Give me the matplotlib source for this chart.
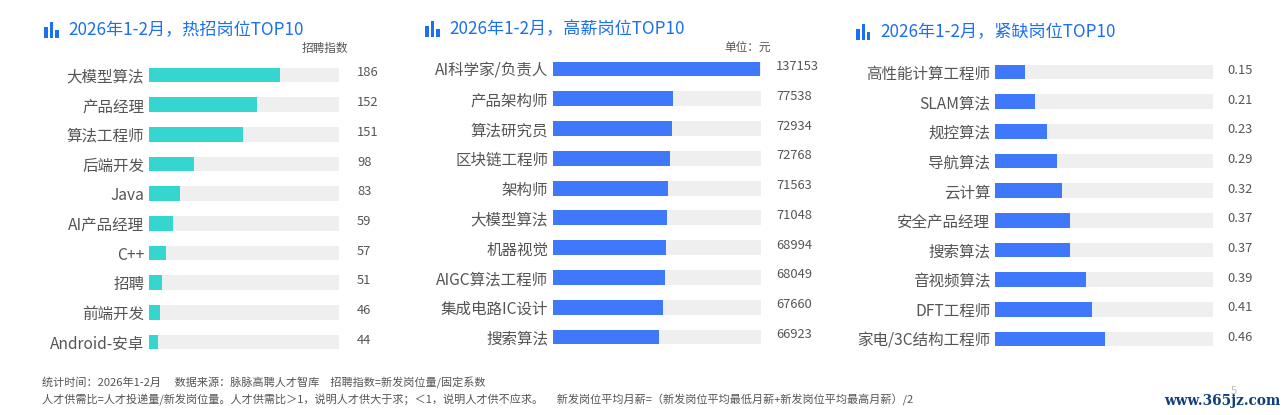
import matplotlib
matplotlib.use('Agg')
import matplotlib.pyplot as plt
from matplotlib.patches import Rectangle

plt.rcParams['font.family'] = ['Noto Sans CJK SC', 'DejaVu Sans']

W, H = 1287, 415

# left panel
hot_jobs = ['大模型算法', '产品经理', '算法工程师', '后端开发', 'Java',
            'AI产品经理', 'C++', '招聘', '前端开发', 'Android-安卓']
hot_labels = ['186', '152', '151', '98', '83', '59', '57', '51', '46', '44']
hot_bars = [69, 57, 49.5, 23.5, 16.5, 12.5, 9, 7, 6, 4.5]

# middle panel
pay_jobs = ['AI科学家/负责人', '产品架构师', '算法研究员', '区块链工程师', '架构师',
            '大模型算法', '机器视觉', 'AIGC算法工程师', '集成电路IC设计', '搜索算法']
pay_labels = ['137153', '77538', '72934', '72768', '71563',
              '71048', '68994', '68049', '67660', '66923']
pay_bars = [99.5, 57.5, 57, 56.2, 55.5, 54.7, 54.2, 53.8, 52.8, 51]

# right panel
short_jobs = ['高性能计算工程师', 'SLAM算法', '规控算法', '导航算法', '云计算',
              '安全产品经理', '搜索算法', '音视频算法', 'DFT工程师', '家电/3C结构工程师']
short_labels = ['0.15', '0.21', '0.23', '0.29', '0.32',
                '0.37', '0.37', '0.39', '0.41', '0.46']
short_bars = [13.7, 18.3, 23.8, 28.4, 30.7, 34.4, 34.4, 41.7, 44.5, 50.4]

TEAL = '#36d6d0'
BLUE = '#4078fb'
TRACK = '#efefef'
TITLE = '#1c6ff0'
GREY = '#555555'

fig = plt.figure(figsize=(W / 100, H / 100), dpi=100, facecolor='white')


def panel(jobs, labels, bars, color, x0, x1, y_first, y_last, val_x, val_dy, title, title_x, title_y):
    # axes spans exactly the rows, half a step beyond first and last one
    step = (y_last - y_first) / 9
    top = y_first - step / 2
    bottom = y_last + step / 2
    ax = fig.add_axes([x0 / W, 1 - bottom / H, (x1 - x0) / W, (bottom - top) / H])
    ypos = list(range(len(jobs)))
    ax.barh(ypos, [100] * len(jobs), height=0.5, color=TRACK)
    ax.barh(ypos, bars, height=0.5, color=color)
    ax.set_xlim(0, 100)
    ax.set_ylim(len(jobs) - 0.5, -0.5)
    ax.set_yticks(ypos, jobs, fontsize=11.2, color=GREY)
    ax.tick_params(axis='y', length=0, pad=3.5)
    ax.set_xticks([])
    for s in ax.spines.values():
        s.set_visible(False)
    for i, lab in enumerate(labels):
        fig.text(val_x / W, 1 - (y_first + i * step + val_dy) / H, lab,
                 fontsize=9.3, color=GREY, va='center', ha='left')
    # little bar icon + title
    ix = title_x - 24
    for dx, h in zip((0, 5.5, 11), (11, 16, 8)):
        fig.add_artist(Rectangle(((ix + dx) / W, 1 - (title_y + 8) / H), 3.5 / W, h / H,
                                 transform=fig.transFigure, color=TITLE, lw=0))
    fig.text(title_x / W, 1 - title_y / H, title, fontsize=12.3, color=TITLE,
             va='center', ha='left', weight='medium')


panel(hot_jobs, hot_labels, hot_bars, TEAL, 149, 339, 75, 342, 357, -2,
      '2026年1-2月，热招岗位TOP10', 68, 30)
panel(pay_jobs, pay_labels, pay_bars, BLUE, 553, 761, 69, 337, 776, -2.5,
      '2026年1-2月，高薪岗位TOP10', 449, 29)
panel(short_jobs, short_labels, short_bars, BLUE, 995, 1213, 72, 339, 1227, -1.5,
      '2026年1-2月，紧缺岗位TOP10', 880, 32)

fig.text(325 / W, 1 - 48 / H, '招聘指数', fontsize=8.4, color=GREY, ha='center', va='center')
fig.text(748 / W, 1 - 47 / H, '单位：元', fontsize=8.4, color=GREY, ha='center', va='center')

fig.text(42 / W, 1 - 383 / H, '统计时间：2026年1-2月　 数据来源：脉脉高聘人才智库　招聘指数=新发岗位量/固定系数',
         fontsize=8, color=GREY, va='center')
fig.text(42 / W, 1 - 400 / H,
         '人才供需比=人才投递量/新发岗位量。人才供需比＞1，说明人才供大于求；＜1，说明人才供不应求。　 '
         '新发岗位平均月薪=（新发岗位平均最低月薪+新发岗位平均最高月薪）/2',
         fontsize=8, color=GREY, va='center')

# page number and site mark
fig.text(1234 / W, 1 - 391 / H, '5', fontsize=8, color='#bbbbbb', ha='center', va='center')
fig.text(1222 / W, 1 - 401 / H, 'www.365jz.com', fontsize=9.8, color='#123f7a',
         family='DejaVu Serif', weight='bold', ha='center', va='center')

fig.savefig('out.png', dpi=100)
